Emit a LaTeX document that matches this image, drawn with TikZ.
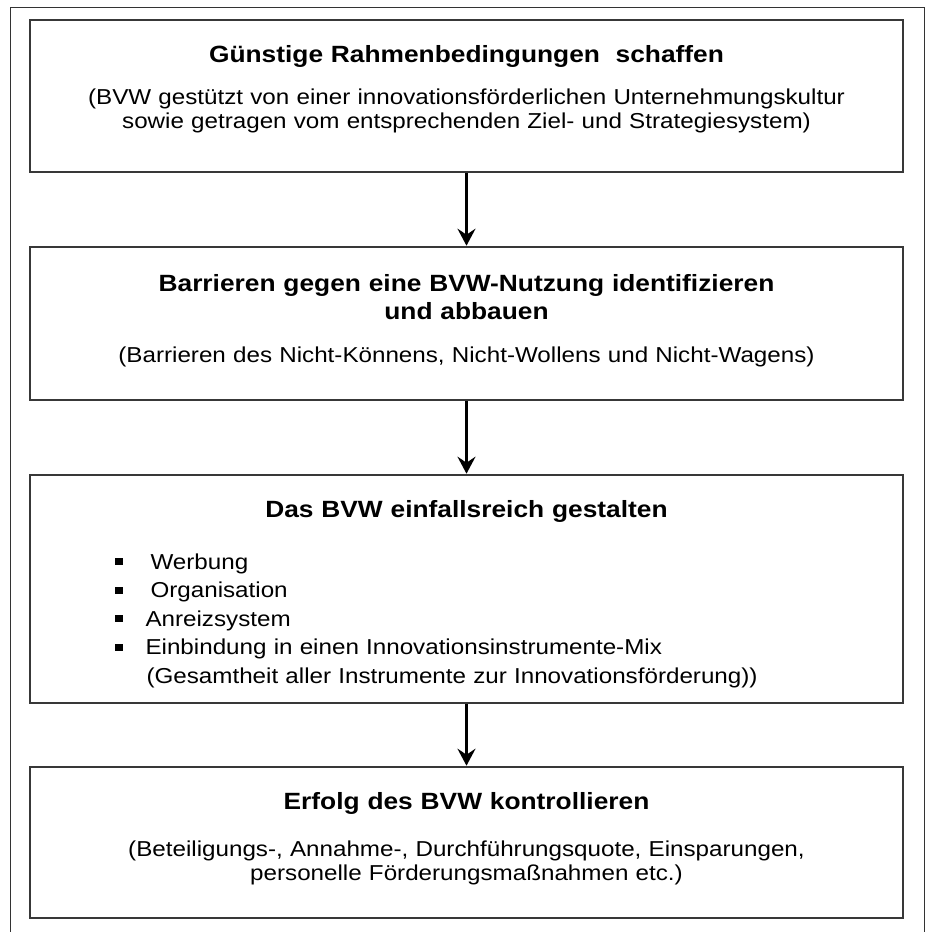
\documentclass[tikz,border=0pt]{standalone}
\usepackage{fontspec}
\setmainfont[FakeStretch=1.12]{Liberation Sans}
\usetikzlibrary{arrows.meta,positioning,calc}
\newcommand{\bsq}{\rule[4pt]{8pt}{7pt}}

\begin{document}
\begin{tikzpicture}[
  x=1pt, y=-1pt,
  frame/.style={draw=black!80, line width=1pt},
  box/.style={draw=black!78, line width=2.6pt, minimum width=873pt, inner sep=0pt},
  ttl/.style={anchor=base, align=center, text width=860pt, font=\fontsize{23.5}{28}\selectfont\bfseries},
  txt/.style={anchor=base, align=center, text width=860pt, font=\fontsize{21.6}{24}\selectfont},
  lst/.style={anchor=base west, align=left, text width=780pt, font=\fontsize{21.6}{28.5}\selectfont},
  arr/.style={-{Stealth[length=17pt,width=18pt,inset=6pt]}, line width=2.6pt}
]
\useasboundingbox (0,0) rectangle (926,932);
\def\xM{466.5}

% ================= FRAME =================
\draw[frame] (10,932) -- (10,7) -- (924,7) -- (924,932);

% ================= BOXES =================
\node[box, minimum height=152pt] (b1) at (\xM,96) {};
\node[box, minimum height=153pt] (b2) at (\xM,323.5) {};
\node[box, minimum height=228pt] (b3) at (\xM,589) {};
\node[box, minimum height=151pt] (b4) at (\xM,842.5) {};
\draw[arr] (b1)--(b2); \draw[arr] (b2)--(b3); \draw[arr] (b3)--(b4);

% ================= TEXTS =================
\node[ttl] (t1) at ($(b1.north)+(0,44)$) {Günstige Rahmenbedingungen\ \ schaffen};
\node[txt] (s1) at ($(b1.north)+(0,86)$) {(BVW gestützt von einer innovationsförderlichen Unternehmungskultur\\
  sowie getragen vom entsprechenden Ziel- und Strategiesystem)};

\node[ttl] (t2) at ($(b2.north)+(0,46)$) {Barrieren gegen eine BVW-Nutzung identifizieren\\ und abbauen};
\node[txt] (s2) at ($(b2.north)+(0,117)$) {(Barrieren des Nicht-Könnens, Nicht-Wollens und Nicht-Wagens)};

\node[ttl] (t3) at ($(b3.north)+(0,44)$) {Das BVW einfallsreich gestalten};
\node[lst] (s3) at (111,569) {\bsq\hspace{28pt}Werbung\\
  \bsq\hspace{28pt}Organisation\\
  \bsq\hspace{23pt}Anreizsystem\\
  \bsq\hspace{23pt}Einbindung in einen Innovationsinstrumente-Mix\\
  \hspace*{32pt}(Gesamtheit aller Instrumente zur Innovationsförderung))};

\node[ttl] (t4) at ($(b4.north)+(0,44)$) {Erfolg des BVW kontrollieren};
\node[txt] (s4) at ($(b4.north)+(0,91)$) {(Beteiligungs-, Annahme-, Durchführungsquote, Einsparungen,\\
  personelle Förderungsmaßnahmen etc.)};

\end{tikzpicture}
\end{document}
